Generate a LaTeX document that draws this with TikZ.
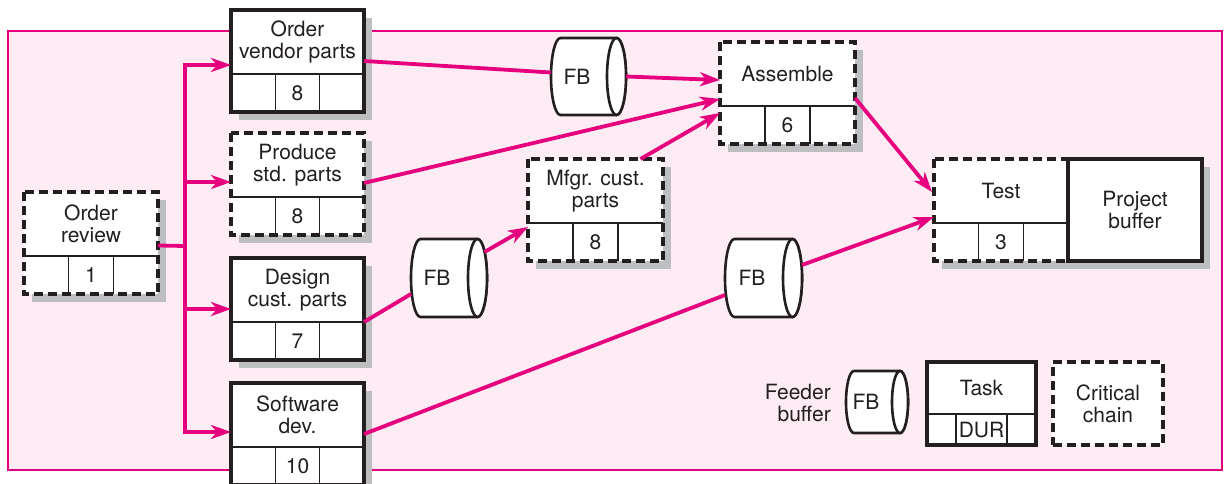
\documentclass[tikz,border=0pt]{standalone}
\usepackage{fontspec}
\setmainfont{TeX Gyre Heros}
\usetikzlibrary{arrows.meta,calc}
\definecolor{mag}{HTML}{E6007E}
\definecolor{bgpink}{HTML}{FDECF4}
\definecolor{shadowc}{HTML}{BCBEC0}
\definecolor{ink}{HTML}{231F20}
\tikzset{
  lbl/.style={font=\fontsize{21}{22}\selectfont, text=ink, align=center, inner sep=0pt},
  boxfill/.style={fill=white, inner sep=0pt, outer sep=0pt},
  solidb/.style={draw=ink, line width=3.2pt},
  dashb/.style={draw=ink, line width=3.2pt, dash pattern=on 9pt off 5pt},
  thinl/.style={draw=ink, line width=1.3pt},
  cyl/.style={draw=ink, line width=2.6pt, fill=white},
  conn/.style={draw=mag, line width=3.8pt},
  arr/.style={conn, -{Stealth[length=20pt,width=14pt,inset=6pt]}},
}
% name, border style, L, T, W, label, duration
\newcommand{\taskbox}[7]{%
  \fill[shadowc] ({#3+8},{#4+8}) rectangle ({#3+#5+8},{#4+110});
  \node[boxfill, minimum width=#5pt, minimum height=102pt, anchor=north west] (#1) at (#3,#4) {};
  \draw[thinl] ({#3},{#4+64}) -- ({#3+#5},{#4+64});
  \draw[thinl] ({#3+#5/3},{#4+64}) -- ({#3+#5/3},{#4+102});
  \draw[thinl] ({#3+2*#5/3},{#4+64}) -- ({#3+2*#5/3},{#4+102});
  \draw[#2] (#1.north west) rectangle (#1.south east);
  \node[lbl] (#1-t) at ({#3+#5/2},{#4+32}) {#6};
  \node[lbl] (#1-d) at ({#3+#5/2},{#4+83}) {#7};
}
% name, L, T, W, H, rx, text dx
\newcommand{\fbcyl}[7]{%
  \pgfmathsetmacro{\fbry}{#5/2}
  \node[inner sep=0pt, outer sep=0pt, minimum width=#4pt, minimum height=#5pt, anchor=north west] (#1) at (#2,#3) {};
  \filldraw[cyl] ([xshift=-#6pt]#1.north east) -- ([xshift=#6pt]#1.north west)
     arc[start angle=90, end angle=270, x radius=#6pt, y radius=\fbry pt]
     -- ([xshift=-#6pt]#1.south east)
     arc[start angle=-90, end angle=90, x radius=#6pt, y radius=\fbry pt] -- cycle;
  \draw[cyl] ([xshift=-#6pt]#1.east) ellipse[x radius=#6pt, y radius=\fbry pt];
  \node[lbl] (#1-t) at ([xshift=#7pt]#1.center) {FB};
}
\begin{document}
\begin{tikzpicture}[x=1pt,y=-1pt]
\useasboundingbox (0,0) rectangle (1225,484);
\clip (0,0) rectangle (1225,484);
\draw[draw=mag, fill=bgpink, line width=2.2pt] (8,31) rectangle (1222,470);

\taskbox{ovp}{solidb}{231}{10}{133}{Order\\vendor parts}{8}
\taskbox{psp}{dashb}{231}{133}{133}{Produce\\std. parts}{8}
\taskbox{orev}{dashb}{24}{192}{134}{Order\\review}{1}
\taskbox{dcp}{solidb}{231}{258}{133}{Design\\cust. parts}{7}
\taskbox{swd}{solidb}{231}{383}{133}{Software\\dev.}{10}
\taskbox{mcp}{dashb}{528}{159}{135}{Mfgr. cust.\\parts}{8}
\taskbox{asm}{dashb}{720}{42}{135}{Assemble}{6}
\taskbox{tst}{dashb}{934}{159}{134}{Test}{3}

\fill[shadowc] (1076,167) rectangle (1210,269);
\node[boxfill, solidb, minimum width=134pt, minimum height=102pt, anchor=north west] (pb) at (1068,159) {};
\node[lbl] (pb-t) at (pb.center) {Project\\buffer};

\fbcyl{fb1}{551}{38}{75}{77}{9.5}{-11.5}
\fbcyl{fb2}{411}{239}{76}{78}{9.5}{-12}
\fbcyl{fb3}{725}{239}{77}{78}{9.5}{-11.5}

% legend
\node[lbl, align=right, anchor=east] (lfbt) at (831,403) {Feeder\\buffer};
\fbcyl{lfb}{846}{371}{62}{62}{8}{-11}
\node[boxfill, minimum width=109pt, minimum height=83pt, anchor=north west] (ltask) at (927,362) {};
\draw[thinl] (927,414) -- (1036,414);
\draw[thinl] (956,414) -- (956,445);
\draw[thinl] (1007,414) -- (1007,445);
\draw[solidb] (ltask.north west) rectangle (ltask.south east);
\node[lbl] (ltask-t) at (981.5,388) {Task};
\node[lbl] (ltask-d) at (981.5,430) {DUR};
\node[boxfill, dashb, minimum width=110pt, minimum height=83pt, anchor=north west] (lcc) at (1053,362) {};
\node[lbl] (lcc-t) at (lcc.center) {Critical\\chain};

% connectors
\coordinate (tr) at (185,246);
\coordinate (a1) at ([yshift=-4pt]ovp.west);
\coordinate (a2) at ([yshift=2pt]psp.west);
\coordinate (a3) at (dcp.west);
\coordinate (a4) at ([yshift=2pt]swd.west);
\draw[conn] ([yshift=-2.5pt]orev.east) -- (tr);
\draw[arr] (tr) -- (tr |- a1) -- (a1);
\draw[arr] (tr) -- (tr |- a4) -- (a4);
\draw[arr] (tr |- a2) -- (a2);
\draw[arr] (tr |- a3) -- (a3);

\draw[conn] (ovp.east) -- ([yshift=4pt]fb1.west);
\draw[arr] (fb1.east) -- ([yshift=13pt]asm.west);
\draw[arr] ([yshift=1pt]psp.east) -- ([yshift=-6pt]asm.west);
\draw[arr] ([xshift=45pt]mcp.north) -- ([yshift=-20pt]asm.west);
\draw[conn] ([yshift=-13pt]dcp.east) -- ([yshift=-16pt]fb2.west);
\draw[arr] ([xshift=-2.5pt,yshift=26pt]fb2.east) -- ([yshift=-17pt]mcp.west);
\draw[conn] (swd.east) -- ([yshift=-17pt]fb3.west);
\draw[arr] ([yshift=13pt]fb3.east) -- ([yshift=-7pt]tst.west);
\draw[arr] ([yshift=-5pt]asm.east) -- ([xshift=-2pt,yshift=18pt]tst.west);
\end{tikzpicture}
\end{document}
